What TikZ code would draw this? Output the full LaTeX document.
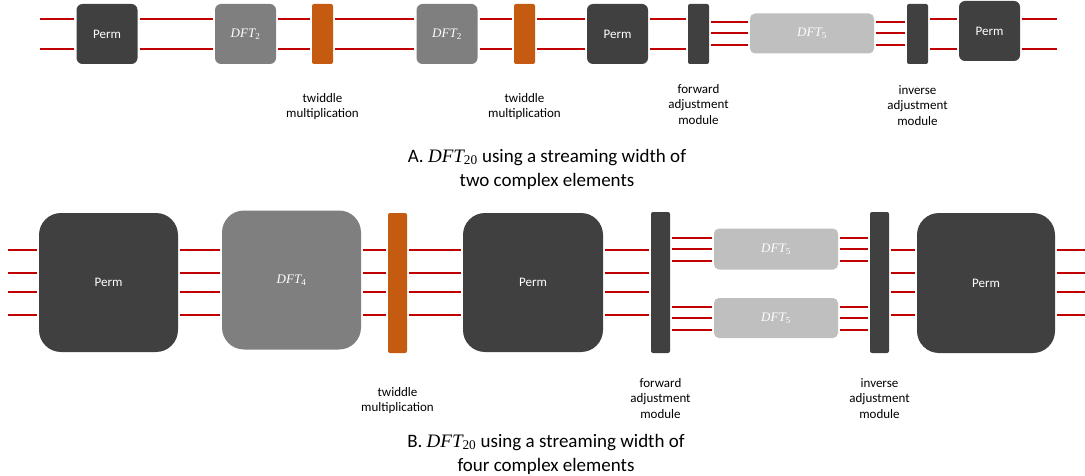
\documentclass[tikz,border=0pt]{standalone}
\usepackage{fontspec}
\setmainfont{Carlito}
\newfontfamily\dftfont{Liberation Serif}
\usetikzlibrary{positioning,calc}

\newcommand\dftn[1]{{\dftfont\itshape DFT}\textsubscript{\dftfont #1}}

\definecolor{permgray}{HTML}{404040}
\definecolor{dftgray}{HTML}{7F7F7F}
\definecolor{dftlight}{HTML}{BFBFBF}
\definecolor{twidorange}{HTML}{C55A11}
\definecolor{wirered}{HTML}{C00000}

\tikzset{
  blk/.style={inner sep=0pt, text=white, rounded corners=6pt,
    font=\fontsize{13}{15}\selectfont},
  permbox/.style={blk, fill=permgray, minimum width=61pt, minimum height=60pt},
  dftbox/.style={blk, fill=dftgray, minimum width=61pt, minimum height=60pt},
  dftfive/.style={blk, fill=dftlight, rounded corners=5pt, minimum width=124pt, minimum height=40pt},
  big/.style={rounded corners=22pt, minimum width=139pt, minimum height=139pt},
  twidbar/.style={inner sep=0pt, rounded corners=2pt, fill=twidorange,
    minimum width=21pt, minimum height=60pt},
  adjbar/.style={inner sep=0pt, rounded corners=2pt, fill=permgray,
    minimum width=21pt, minimum height=60pt},
  wire/.style={draw=wirered, line width=2pt, shorten <=2pt, shorten >=2pt},
  lbl/.style={align=center, inner sep=0pt, font=\fontsize{13}{15.5}\selectfont},
  caption/.style={align=center, inner sep=0pt, font=\fontsize{19}{24}\selectfont}
}

\begin{document}
\begin{tikzpicture}[x=1pt,y=-1pt]
  \useasboundingbox (0,0) rectangle (1085,476);
  \def\wa{15}
  % A: two complex elements
  \node[permbox] (pA1) at (107,34) {Perm};
  \node[dftbox] (dA1) at (245.5,34) {\dftn{2}};
  \node[twidbar] (tA1) at (322.5,34) {};
  \node[dftbox] (dA2) at (447,34) {\dftn{2}};
  \node[twidbar] (tA2) at (524.5,34) {};
  \node[permbox] (pA2) at (617.5,34) {Perm};
  \node[adjbar] (fA) at (698.5,34) {};
  \node[dftfive] (dA3) at (812,33.5) {\dftn{5}};
  \node[adjbar] (iA) at (917.5,34) {};
  \node[permbox] (pA3) at (989.5,31) {Perm};
  \coordinate (inA) at (38,34);
  \coordinate (outA) at (1059,34);

  \foreach \u/\v in {pA1/dA1, dA1/tA1, tA1/dA2, dA2/tA2, tA2/pA2, pA2/fA, iA/pA3}
    \foreach \s in {-\wa,\wa}
      \draw[wire] ($(\u.east |- inA)+(0,\s)$) -- ($(\v.west |- inA)+(0,\s)$);
  \foreach \s in {-\wa,\wa} {
    \draw[wire] ($(inA)+(0,\s)$) -- ($(pA1.west |- inA)+(0,\s)$);
    \draw[wire] ($(pA3.east |- outA)+(0,\s)$) -- ($(outA)+(0,\s)$);
  }
  \foreach \s in {-11.5,0,11.5} {
    \draw[wire] ($(fA.east |- dA3)+(0,\s)$) -- ($(dA3.west)+(0,\s)$);
    \draw[wire] ($(dA3.east)+(0,\s)$) -- ($(iA.west |- dA3)+(0,\s)$);
  }

  \node[lbl, below=29pt of tA1] (ltA1) {twiddle\\multiplication};
  \node[lbl, below=29pt of tA2] (ltA2) {twiddle\\multiplication};
  \node[lbl, below=20pt of fA] (lfA) {forward\\adjustment\\module};
  \node[lbl, below=21pt of iA] (liA) {inverse\\adjustment\\module};
  \node[caption] (capA) at (547,169)
    {A. \dftn{20} using a streaming width of\\two complex elements};

  % B: four complex elements
  \node[permbox, big] (pB1) at (108.5,282.5) {Perm};
  \node[dftbox, big] (dB1) at (291.5,280) {\dftn{4}};
  \node[twidbar, minimum width=19pt, minimum height=140pt] (tB) at (397.5,283) {};
  \node[permbox, big, minimum width=140pt] (pB2) at (533,282.5) {Perm};
  \node[adjbar, minimum width=19pt, minimum height=141pt] (fB) at (660.5,282.5) {};
  \node[dftfive, minimum height=41pt] (dB2) at (776,249) {\dftn{5}};
  \node[dftfive] (dB3) at (776,318) {\dftn{5}};
  \node[adjbar, minimum width=19pt, minimum height=141pt] (iB) at (879.5,282.5) {};
  \node[permbox, big, minimum width=138pt, minimum height=140pt] (pB3) at (986,283) {Perm};
  \coordinate (inB) at (6,282.5);
  \coordinate (outB) at (1087,282.5);

  \foreach \u/\v in {pB1/dB1, dB1/tB, tB/pB2, pB2/fB, iB/pB3}
    \foreach \s in {-32.5,-9.5,9.5,32.5}
      \draw[wire] ($(\u.east |- inB)+(0,\s)$) -- ($(\v.west |- inB)+(0,\s)$);
  \foreach \s in {-32.5,-9.5,9.5,32.5} {
    \draw[wire] ($(inB)+(0,\s)$) -- ($(pB1.west |- inB)+(0,\s)$);
    \draw[wire] ($(pB3.east |- outB)+(0,\s)$) -- ($(outB)+(0,\s)$);
  }
  \foreach \d in {dB2,dB3}
    \foreach \s in {-11.5,0,11.5} {
      \draw[wire] ($(fB.east |- \d)+(0,\s)$) -- ($(\d.west)+(0,\s)$);
      \draw[wire] ($(\d.east)+(0,\s)$) -- ($(iB.west |- \d)+(0,\s)$);
    }

  \node[lbl, below=34pt of tB] (ltB) {twiddle\\multiplication};
  \node[lbl, below=25pt of fB] (lfB) {forward\\adjustment\\module};
  \node[lbl, below=25pt of iB] (liB) {inverse\\adjustment\\module};
  \node[caption] (capB) at (546,454)
    {B. \dftn{20} using a streaming width of\\four complex elements};
\end{tikzpicture}
\end{document}
